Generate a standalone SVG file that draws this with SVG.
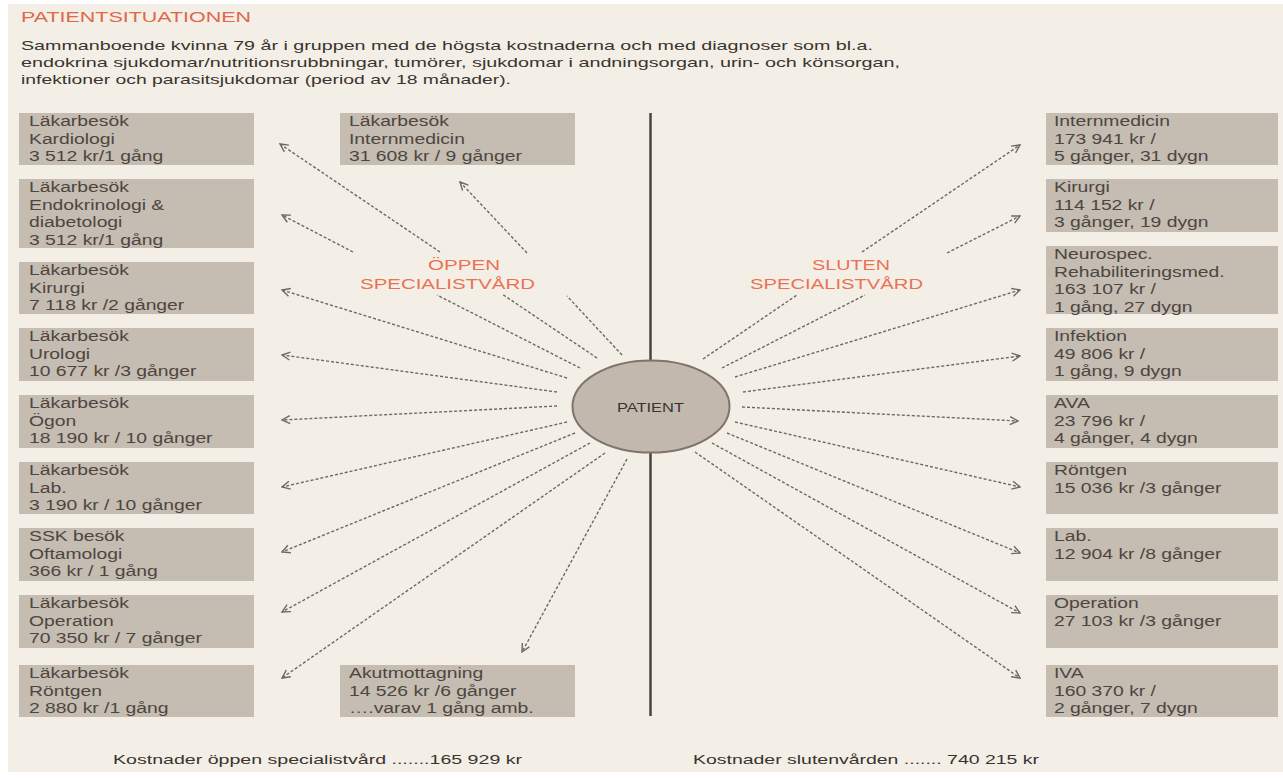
<svg xmlns="http://www.w3.org/2000/svg" width="1283" height="778" viewBox="0 0 1283 778">
<style>
.bg{fill:#f3efe6}
.box{fill:#c5bcb2}
.bt{font-family:"Liberation Sans",Arial,sans-serif;font-size:14px;fill:#4d4640}
.hd{font-family:"Liberation Sans",Arial,sans-serif;font-size:13px;fill:#3a332e}
.ttl{font-family:"Liberation Sans",Arial,sans-serif;font-size:14px;fill:#e0674a}
.lbl{font-family:"Liberation Sans",Arial,sans-serif;font-size:15px;fill:#ea7252}
.con{fill:none;stroke:#6e6862;stroke-width:1.4;stroke-dasharray:3 2}
</style>
<defs>
<marker id="arr" viewBox="0 0 10 10" refX="9" refY="5" markerWidth="10" markerHeight="10" markerUnits="userSpaceOnUse" orient="auto">
<path d="M1,1 L9,5 L1,9" fill="none" stroke="#6e6862" stroke-width="1.4"/>
</marker>
</defs>
<rect width="1283" height="778" fill="#ffffff"/>
<rect class="bg" x="8" y="4" width="1275" height="768"/>

<g id="header">
<text class="ttl" x="21" y="22" textLength="230" lengthAdjust="spacingAndGlyphs">PATIENTSITUATIONEN</text>
<text class="hd" x="21" y="50" textLength="852" lengthAdjust="spacingAndGlyphs">Sammanboende kvinna 79 år i gruppen med de högsta kostnaderna och med diagnoser som bl.a.</text>
<text class="hd" x="21" y="67" textLength="879" lengthAdjust="spacingAndGlyphs">endokrina sjukdomar/nutritionsrubbningar, tumörer, sjukdomar i andningsorgan, urin- och könsorgan,</text>
<text class="hd" x="21" y="84" textLength="490" lengthAdjust="spacingAndGlyphs">infektioner och parasitsjukdomar (period av 18 månader).</text>
</g>

<g id="divider"><line x1="650.5" y1="113" x2="650.5" y2="716" stroke="#4a4440" stroke-width="2.5"/></g>

<g id="connectors">
<path class="con" marker-end="url(#arr)" d="M597,358 L502,294 M440,252 L280,144"/>
<path class="con" marker-end="url(#arr)" d="M622,355 L567,296 M527,253 L460,182"/>
<path class="con" marker-end="url(#arr)" d="M580,368 L437,295 M353,252 L282,215"/>
<path class="con" marker-end="url(#arr)" d="M567,378 L282,290"/>
<path class="con" marker-end="url(#arr)" d="M557,392 L282,355"/>
<path class="con" marker-end="url(#arr)" d="M557,406 L282,420"/>
<path class="con" marker-end="url(#arr)" d="M567,422 L282,487"/>
<path class="con" marker-end="url(#arr)" d="M575,433 L282,552"/>
<path class="con" marker-end="url(#arr)" d="M590,443 L282,612"/>
<path class="con" marker-end="url(#arr)" d="M605,453 L282,678"/>
<path class="con" marker-end="url(#arr)" d="M627,459 L522,652"/>
<path class="con" marker-end="url(#arr)" d="M703,359 L797,295 M862,252 L1020,145"/>
<path class="con" marker-end="url(#arr)" d="M722,368 L865,295 M947,253 L1020,216"/>
<path class="con" marker-end="url(#arr)" d="M735,377 L1020,290"/>
<path class="con" marker-end="url(#arr)" d="M743,392 L1020,356"/>
<path class="con" marker-end="url(#arr)" d="M742,407 L1018,421"/>
<path class="con" marker-end="url(#arr)" d="M735,422 L1020,487"/>
<path class="con" marker-end="url(#arr)" d="M727,433 L1020,553"/>
<path class="con" marker-end="url(#arr)" d="M712,443 L1020,613"/>
<path class="con" marker-end="url(#arr)" d="M695,452 L1020,678"/>
</g>

<g id="label-oppen">
<text class="lbl" x="428" y="270" textLength="72" lengthAdjust="spacingAndGlyphs">ÖPPEN</text>
<text class="lbl" x="360" y="289" textLength="175" lengthAdjust="spacingAndGlyphs">SPECIALISTVÅRD</text>
</g>
<g id="label-sluten">
<text class="lbl" x="812" y="270" textLength="78" lengthAdjust="spacingAndGlyphs">SLUTEN</text>
<text class="lbl" x="750" y="289" textLength="173" lengthAdjust="spacingAndGlyphs">SPECIALISTVÅRD</text>
</g>

<g id="patient">
<ellipse cx="651" cy="406.5" rx="78.5" ry="46" fill="#c2b8ae" stroke="#7d746b" stroke-width="2"/>
<text x="617" y="412" font-family="Liberation Sans, Arial, sans-serif" font-size="12.5" fill="#3a332e" textLength="67" lengthAdjust="spacingAndGlyphs">PATIENT</text>
</g>

<!-- left column -->
<g id="l-kardiologi"><rect class="box" x="19" y="113" width="235" height="52"/>
<g class="bt" transform="translate(29,0) scale(1.38,1)"><text class="bt" y="126.5">Läkarbesök</text><text class="bt" y="144">Kardiologi</text><text class="bt" y="161.5">3 512 kr/1 gång</text></g></g>
<g id="l-endokrin"><rect class="box" x="19" y="179" width="235" height="69"/>
<g transform="translate(29,0) scale(1.38,1)"><text class="bt" y="192.5">Läkarbesök</text><text class="bt" y="210">Endokrinologi &amp;</text><text class="bt" y="227.5">diabetologi</text><text class="bt" y="245">3 512 kr/1 gång</text></g></g>
<g id="l-kirurgi"><rect class="box" x="19" y="262" width="235" height="52"/>
<g transform="translate(29,0) scale(1.38,1)"><text class="bt" y="275.5">Läkarbesök</text><text class="bt" y="293">Kirurgi</text><text class="bt" y="310.5">7 118 kr /2 gånger</text></g></g>
<g id="l-urologi"><rect class="box" x="19" y="328" width="235" height="53"/>
<g transform="translate(29,0) scale(1.38,1)"><text class="bt" y="341.5">Läkarbesök</text><text class="bt" y="359">Urologi</text><text class="bt" y="376.5">10 677 kr /3 gånger</text></g></g>
<g id="l-ogon"><rect class="box" x="19" y="395" width="235" height="53"/>
<g transform="translate(29,0) scale(1.38,1)"><text class="bt" y="408.5">Läkarbesök</text><text class="bt" y="426">Ögon</text><text class="bt" y="443.5">18 190 kr / 10 gånger</text></g></g>
<g id="l-lab"><rect class="box" x="19" y="462" width="235" height="52"/>
<g transform="translate(29,0) scale(1.38,1)"><text class="bt" y="475.5">Läkarbesök</text><text class="bt" y="493">Lab.</text><text class="bt" y="510.5">3 190 kr / 10 gånger</text></g></g>
<g id="l-ssk"><rect class="box" x="19" y="528" width="235" height="53"/>
<g transform="translate(29,0) scale(1.38,1)"><text class="bt" y="541.5">SSK besök</text><text class="bt" y="559">Oftamologi</text><text class="bt" y="576.5">366 kr / 1 gång</text></g></g>
<g id="l-operation"><rect class="box" x="19" y="595" width="235" height="53"/>
<g transform="translate(29,0) scale(1.38,1)"><text class="bt" y="608.5">Läkarbesök</text><text class="bt" y="626">Operation</text><text class="bt" y="643.5">70 350 kr / 7 gånger</text></g></g>
<g id="l-rontgen"><rect class="box" x="19" y="665" width="235" height="52"/>
<g transform="translate(29,0) scale(1.38,1)"><text class="bt" y="678.5">Läkarbesök</text><text class="bt" y="696">Röntgen</text><text class="bt" y="713.5">2 880 kr /1 gång</text></g></g>

<!-- middle boxes -->
<g id="m-internmedicin"><rect class="box" x="340" y="113" width="235" height="52"/>
<g transform="translate(349,0) scale(1.38,1)"><text class="bt" y="126.5">Läkarbesök</text><text class="bt" y="144">Internmedicin</text><text class="bt" y="161.5">31 608 kr / 9 gånger</text></g></g>
<g id="m-akut"><rect class="box" x="340" y="665" width="235" height="52"/>
<g transform="translate(349,0) scale(1.38,1)"><text class="bt" y="678.5">Akutmottagning</text><text class="bt" y="696">14 526 kr /6 gånger</text><text class="bt" y="713.5">….varav 1 gång amb.</text></g></g>

<!-- right column -->
<g id="r-internmedicin"><rect class="box" x="1046" y="113" width="232" height="52"/>
<g transform="translate(1054,0) scale(1.38,1)"><text class="bt" y="126.5">Internmedicin</text><text class="bt" y="144">173 941 kr /</text><text class="bt" y="161.5">5 gånger, 31 dygn</text></g></g>
<g id="r-kirurgi"><rect class="box" x="1046" y="179" width="232" height="53"/>
<g transform="translate(1054,0) scale(1.38,1)"><text class="bt" y="192.5">Kirurgi</text><text class="bt" y="210">114 152 kr /</text><text class="bt" y="227.5">3 gånger, 19 dygn</text></g></g>
<g id="r-neurospec"><rect class="box" x="1046" y="246" width="232" height="68"/>
<g transform="translate(1054,0) scale(1.38,1)"><text class="bt" y="259.5">Neurospec.</text><text class="bt" y="277">Rehabiliteringsmed.</text><text class="bt" y="294.5">163 107 kr /</text><text class="bt" y="312">1 gång, 27 dygn</text></g></g>
<g id="r-infektion"><rect class="box" x="1046" y="328" width="232" height="53"/>
<g transform="translate(1054,0) scale(1.38,1)"><text class="bt" y="341.5">Infektion</text><text class="bt" y="359">49 806 kr /</text><text class="bt" y="376.5">1 gång, 9 dygn</text></g></g>
<g id="r-ava"><rect class="box" x="1046" y="395" width="232" height="53"/>
<g transform="translate(1054,0) scale(1.38,1)"><text class="bt" y="408.5">AVA</text><text class="bt" y="426">23 796 kr /</text><text class="bt" y="443.5">4 gånger, 4 dygn</text></g></g>
<g id="r-rontgen"><rect class="box" x="1046" y="462" width="232" height="52"/>
<g transform="translate(1054,0) scale(1.38,1)"><text class="bt" y="475.5">Röntgen</text><text class="bt" y="493">15 036 kr /3 gånger</text></g></g>
<g id="r-lab"><rect class="box" x="1046" y="528" width="232" height="53"/>
<g transform="translate(1054,0) scale(1.38,1)"><text class="bt" y="541.5">Lab.</text><text class="bt" y="559">12 904 kr /8 gånger</text></g></g>
<g id="r-operation"><rect class="box" x="1046" y="595" width="232" height="53"/>
<g transform="translate(1054,0) scale(1.38,1)"><text class="bt" y="608.5">Operation</text><text class="bt" y="626">27 103 kr /3 gånger</text></g></g>
<g id="r-iva"><rect class="box" x="1046" y="665" width="232" height="52"/>
<g transform="translate(1054,0) scale(1.38,1)"><text class="bt" y="678.5">IVA</text><text class="bt" y="696">160 370 kr /</text><text class="bt" y="713.5">2 gånger, 7 dygn</text></g></g>

<g id="footer">
<text class="hd" x="113" y="764" textLength="409" lengthAdjust="spacingAndGlyphs">Kostnader öppen specialistvård .......165 929 kr</text>
<text class="hd" x="693" y="764" textLength="346" lengthAdjust="spacingAndGlyphs">Kostnader slutenvården ....... 740 215 kr</text>
</g>
</svg>
